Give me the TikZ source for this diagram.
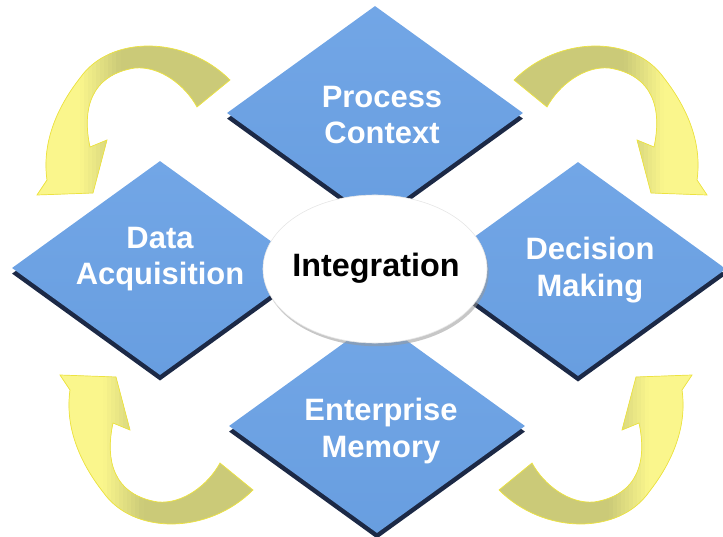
\documentclass[tikz,border=0pt]{standalone}
\usepackage{fontspec}
\setmainfont{Liberation Sans}
\usetikzlibrary{shapes.geometric,shadows,positioning}

\definecolor{diamondblue}{RGB}{104,158,224}
\definecolor{diamondlight}{RGB}{114,166,230}
\definecolor{shadownavy}{RGB}{16,30,60}
\definecolor{arrowolive}{RGB}{203,202,120}
\definecolor{arrowyellow}{RGB}{250,246,140}

\tikzset{
  stage/.style={diamond, minimum width=7.4cm, minimum height=5.35cm, inner sep=0pt,
    top color=diamondlight, bottom color=diamondblue, draw=none,
    drop shadow={shadow xshift=0pt, shadow yshift=-1.4mm, fill=shadownavy, opacity=0.95}},
  stagetext/.style={text=white, font=\bfseries\fontsize{22}{26}\selectfont, align=center},
  hub/.style={ellipse, minimum width=5.6cm, minimum height=3.7cm, fill=white, draw=black!10,
    drop shadow={shadow xshift=0.4mm, shadow yshift=-0.8mm, fill=black!40, opacity=0.55}},
  arrowedge/.style={draw=yellow!60!arrowolive, line width=0.5pt}
}

% one curved arrow, drawn in pixel units (top-left copy)
\newcommand{\cyclearrow}{(230,80) .. controls (185,35) and (110,35) .. (80,78)
  .. controls (55,110) and (42,145) .. (47,180) -- (37,195) -- (93,193) -- (107,140)
  -- (90,147) .. controls (82,110) and (90,75) .. (135,68)
  .. controls (160,66) and (185,85) .. (197,107) -- cycle}

\newcommand{\placearrow}[1]{%
  \begin{scope}[#1]
    \begin{scope}
      \clip \cyclearrow;
      \fill[arrowolive] (30,30) rectangle (240,200);
      \fill[arrowyellow] (30,30) rectangle (80,200);
      \foreach \i in {0,...,9} {
        \pgfmathtruncatemacro{\p}{95-10*\i}
        \fill[arrowyellow!\p!arrowolive] (80+4*\i,30) rectangle (84.5+4*\i,200);
      }
    \end{scope}
    \draw[arrowedge] \cyclearrow;
  \end{scope}}

\begin{document}
\begin{tikzpicture}[x=0.025cm, y=-0.025cm]
  \useasboundingbox (0,0) rectangle (723,537);

  % Arrows
  \placearrow{}
  \placearrow{shift={(744,0)}, xscale=-1}
  \placearrow{shift={(23,570)}, yscale=-1}
  \placearrow{shift={(729,570)}, xscale=-1, yscale=-1}

  % Diamonds
  \node[stage] (processD) at (375,113) {};
  \node[stage] (dataD) at (160,268) {};
  \node[stage] (decisionD) at (578,269) {};
  \node[stage] (memoryD) at (377,426) {};

  % Hub
  \node[hub] (integration) at (375,269) {};
  \node[font=\bfseries\fontsize{23}{26}\selectfont] (integrationT) at (376,268) {Integration};

  % Labels
  \node[stagetext] (processT) at (382,115) {Process\\Context};
  \node[stagetext] (dataT) at (160,259) {Data\\Acquisition};
  \node[stagetext] (decisionT) at (590,270) {Decision\\Making};
  \node[stagetext] (memoryT) at (381,431) {Enterprise\\Memory};
\end{tikzpicture}
\end{document}
